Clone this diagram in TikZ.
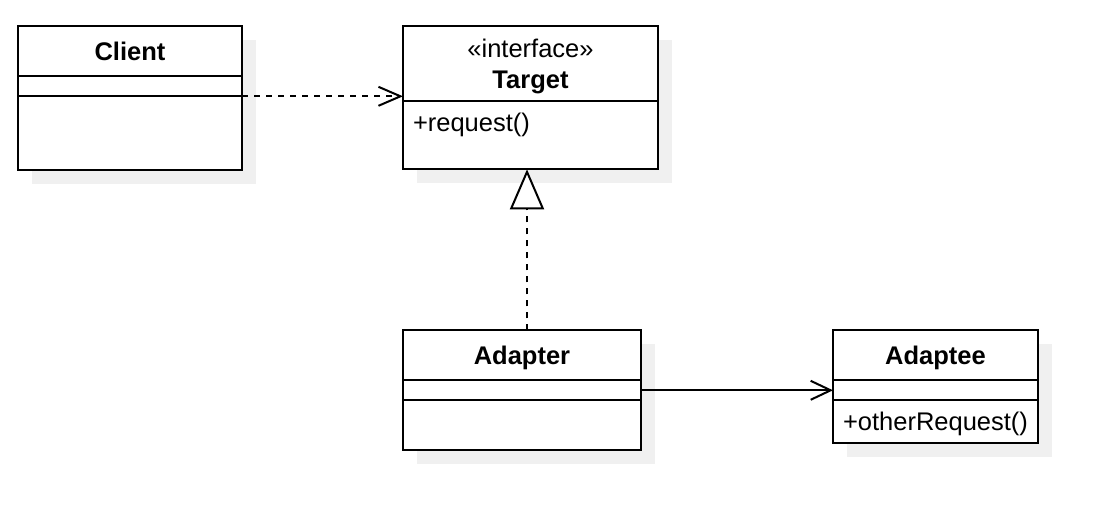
\documentclass[tikz,border=0pt]{standalone}
\usepackage{fontspec}
\setmainfont{Liberation Sans}
\usetikzlibrary{positioning,arrows.meta,shadows}

\begin{document}
\begin{tikzpicture}[font=\fontsize{12.75}{15.5}\selectfont, line width=1pt,
    node distance=0pt,
    part/.style={draw, fill=white, outer sep=0pt, inner sep=0pt,
      drop shadow={opacity=1, fill=black!6, shadow xshift=7pt, shadow yshift=-7pt}},
    head/.style={part, font=\fontsize{12.75}{15.5}\selectfont\bfseries,
      text height=9pt, text depth=0pt},
    ops/.style={part, align=left, inner xsep=5pt, text height=15pt},
    dep/.style={dash pattern=on 3pt off 3pt,
      -{Straight Barb[length=11pt,width=9.5pt]}},
    assoc/.style={-{Straight Barb[length=10pt,width=9.5pt]}},
    realize/.style={dash pattern=on 3pt off 3pt,
      -{Triangle[length=20pt,width=17pt,fill=white]}}]
    \useasboundingbox (-9pt,13.15pt) rectangle (551pt,-248.85pt);
    % Client
    \node[head, minimum width=112pt, minimum height=25pt, anchor=north west]
    (client) at (0,0) {Client};%
    \node[part, minimum width=112pt, minimum height=10pt, below=of client] (clientattr) {};%
    \node[part, minimum width=112pt, minimum height=37pt, below=of clientattr] (clientops) {};%
    % Target
    \node[part, minimum width=127.5pt, minimum height=37.5pt, align=center, text depth=0.3pt,
    right=80.5pt of client.north east, anchor=north west] (target)
    {«interface»\\\textbf{Target}};%
    \node[ops, text width=117.5pt, text depth=19pt, below=of target] (targetops) {\mbox{+request()}};%
    % Adapter
    \node[head, minimum width=119pt, minimum height=25pt,
    below=80.5pt of targetops.south west, anchor=north west] (adapter) {Adapter};%
    \node[part, minimum width=119pt, minimum height=10pt, below=of adapter] (adapterattr) {};%
    \node[part, minimum width=119pt, minimum height=25pt, below=of adapterattr] (adapterops) {};%
    % Adaptee
    \node[head, minimum width=102.5pt, minimum height=25pt,
    right=96pt of adapter.north east, anchor=north west] (adaptee) {Adaptee};%
    \node[part, minimum width=102.5pt, minimum height=10pt, below=of adaptee] (adapteeattr) {};%
    \node[ops, text width=92.5pt, text depth=6.5pt, below=of adapteeattr] (adapteeops) {\mbox{+otherRequest()}};%
    % relations
    \draw[dep] (clientops.north east) -- (clientops.north east -| target.west);%
    \draw[realize] ([xshift=2.5pt]adapter.north) -- ([xshift=2.5pt]adapter.north |- targetops.south);%
    \draw[assoc] (adapterattr.east) -- (adapterattr.east -| adaptee.west);%
\end{tikzpicture}
\end{document}
